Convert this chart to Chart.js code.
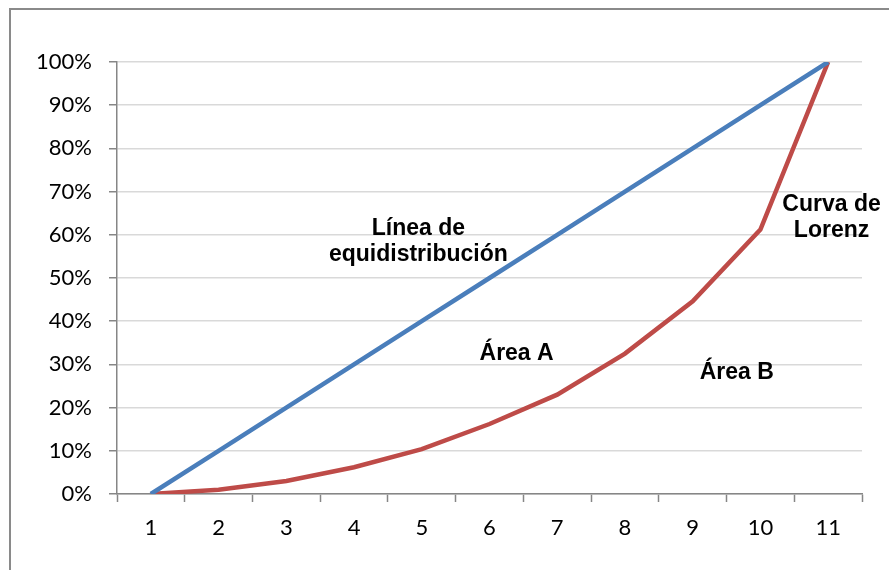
<!DOCTYPE html>
<html>
<head>
<meta charset="utf-8">
<script src="https://cdn.jsdelivr.net/npm/chart.js@4.4.0/dist/chart.umd.min.js"></script>
<style>
  html, body { margin: 0; padding: 0; background: #fff; overflow: hidden; }
  #wrap { position: relative; width: 889px; height: 570px; }
  #frame { position: absolute; left: 9px; top: 8px; width: 900px; height: 600px; border: 2px solid #8a8a8a; box-sizing: border-box; }
  canvas { position: absolute; left: 0; top: 0; }
</style>
</head>
<body>
<div id="wrap">
  <div id="frame"></div>
  <canvas id="lorenz" width="889" height="570"></canvas>
</div>
<script>
const categories = ["1", "2", "3", "4", "5", "6", "7", "8", "9", "10", "11"];
const equalLine = [0, 10, 20, 30, 40, 50, 60, 70, 80, 90, 100];
const lorenzCurve = [0, 1, 3, 6.2, 10.4, 16.2, 23, 32.5, 44.6, 61.2, 100];

// text labels inside the plot: [category index, value, lines]
const annotations = [
  [3.95, 58.3, ["Línea de", "equidistribución"]],
  [5.4, 32.5, ["Área A"]],
  [8.65, 28, ["Área B"]],
  [10.05, 64, ["Curva de", "Lorenz"]],
];

const textPlugin = {
  id: "areaText",
  afterDatasetsDraw(chart) {
    const ctx = chart.ctx;
    const x = chart.scales.x, y = chart.scales.y;
    ctx.save();
    ctx.font = "bold 23px 'Liberation Sans', Arial, sans-serif";
    ctx.fillStyle = "#000";
    ctx.textAlign = "center";
    ctx.textBaseline = "middle";
    annotations.forEach(([cx, cy, lines]) => {
      const px = x.getPixelForValue(cx);
      const py = y.getPixelForValue(cy);
      lines.forEach((t, i) => {
        ctx.fillText(t, px, py + (i - (lines.length - 1) / 2) * 26);
      });
    });
    ctx.restore();
  }
};

new Chart(document.getElementById("lorenz").getContext("2d"), {
  type: "line",
  data: {
    labels: categories,
    datasets: [
      {
        label: "Línea de equidistribución",
        data: equalLine,
        borderColor: "#4a7ebb",
        borderWidth: 4.5,
        pointRadius: 0,
        tension: 0,
      },
      {
        label: "Curva de Lorenz",
        data: lorenzCurve,
        borderColor: "#be4b48",
        borderWidth: 4.5,
        pointRadius: 0,
        tension: 0,
      },
    ],
  },
  options: {
    responsive: false,
    animation: false,
    layout: { padding: { top: 62, right: 27, left: 0, bottom: 0 } },
    plugins: {
      legend: { display: false },
      tooltip: { enabled: false },
    },
    scales: {
      x: {
        offset: true,
        grid: {
          offset: true,
          drawOnChartArea: false,
          drawTicks: true,
          tickLength: 8,
          tickColor: "#868686",
          tickWidth: 1.5,
        },
        border: { color: "#868686", width: 1.5 },
        ticks: {
          color: "#000",
          padding: 13,
          font: { family: "Lato, 'Open Sans', sans-serif", size: 22 },
        },
        afterFit(scale) { scale.height = 76; },
      },
      y: {
        min: 0,
        max: 100,
        ticks: {
          stepSize: 10,
          color: "#000",
          padding: 17,
          font: { family: "Lato, 'Open Sans', sans-serif", size: 22 },
          callback: (v) => v + "%",
        },
        grid: {
          color: "#d9d9d9",
          lineWidth: 1.5,
          tickLength: 8,
          tickColor: "#868686",
        },
        border: { color: "#868686", width: 1.5 },
        afterFit(scale) { scale.width = 117; },
      },
    },
  },
  plugins: [textPlugin],
});
</script>
</body>
</html>
